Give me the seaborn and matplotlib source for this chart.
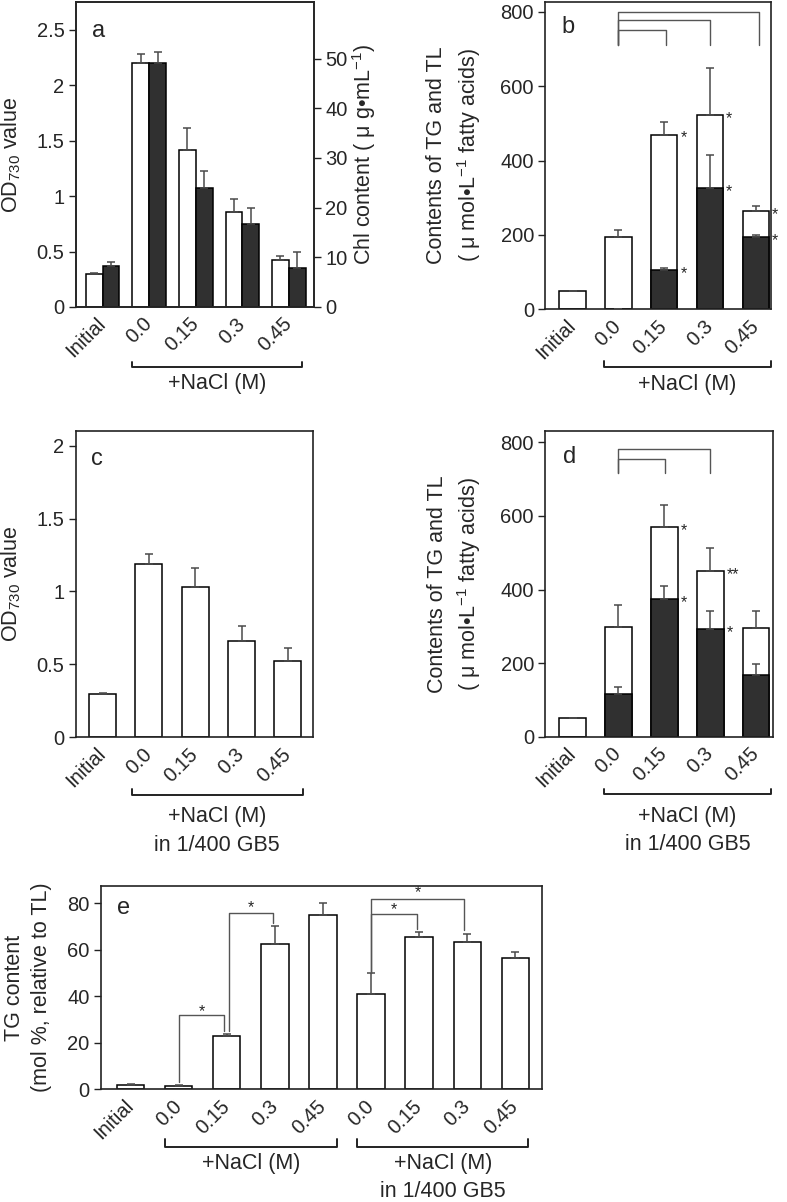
import matplotlib
matplotlib.use("Agg")
import matplotlib.pyplot as plt
from matplotlib.ticker import FuncFormatter
import seaborn as sns
import pandas as pd
import numpy as np

sns.set_theme(style="ticks")
plt.rcParams['font.family'] = ['Liberation Sans', 'DejaVu Sans']
plt.rcParams['mathtext.fontset'] = 'custom'
plt.rcParams['mathtext.rm'] = 'Liberation Sans'
plt.rcParams['mathtext.it'] = 'Liberation Sans:italic'
plt.rcParams['mathtext.default'] = 'regular'

# ---- data ----
conditions = ["Initial", "0.0", "0.15", "0.3", "0.45"]

# panel a: OD730 (white, left axis) and Chl content (dark, right axis)
od_a = [0.30, 2.20, 1.42, 0.86, 0.42]
od_a_err = [0.005, 0.08, 0.19, 0.11, 0.04]
chl_a = [8.2, 49.2, 24.0, 16.7, 7.9]
chl_a_err = [0.9, 2.2, 3.4, 3.3, 3.1]

# panel b: total lipids (white) and TG (dark)
tl_b = [48, 195, 470, 523, 265]
tl_b_err = [1, 18, 35, 127, 12]
tg_b = [0, 2, 105, 327, 195]
tg_b_err = [0, 0, 6, 88, 5]

# panel c: OD730 in 1/400 GB5
od_c = [0.30, 1.19, 1.03, 0.66, 0.525]
od_c_err = [0.003, 0.065, 0.13, 0.10, 0.085]

# panel d: total lipids (white) and TG (dark) in 1/400 GB5
tl_d = [50, 298, 570, 451, 296]
tl_d_err = [2, 60, 59, 61, 45]
tg_d = [0, 117, 373, 292, 168]
tg_d_err = [0, 19, 37, 51, 30]

# panel e: TG content relative to TL
e_keys = ["Initial", "0.0", "0.15", "0.3", "0.45",
          "GB 0.0", "GB 0.15", "GB 0.3", "GB 0.45"]
e_labels = ["Initial", "0.0", "0.15", "0.3", "0.45", "0.0", "0.15", "0.3", "0.45"]
tg_pct = [1.9, 1.4, 22.9, 62.4, 75.0, 41.1, 65.4, 63.5, 56.3]
tg_pct_err = [0.5, 0.3, 0.7, 8.0, 5.0, 8.8, 2.1, 3.4, 2.9]

DARK = "#303030"
ERRC = "#4a4a4a"
LINEC = "#555555"
TICK_FS = 14.5
LAB_FS = 15.5

fig = plt.figure(figsize=(7.87, 12.02), dpi=100)
W, H = 787, 1202


def make_axes(l, r, t, b):
    return fig.add_axes([l / W, 1 - b / H, (r - l) / W, (b - t) / H])


def fmt_g(v, p):
    return f"{v:g}"


def style(ax, ylim, yticks, xlim, labels):
    ax.set_ylim(*ylim)
    ax.set_yticks(yticks)
    ax.yaxis.set_major_formatter(FuncFormatter(fmt_g))
    ax.set_xlim(*xlim)
    ax.set_xticks(range(len(labels)))
    ax.set_xticklabels(labels, rotation=45, ha="right", va="center",
                       rotation_mode="anchor")
    ax.tick_params(axis="y", direction="out", length=5, width=1.0,
                   labelsize=TICK_FS, pad=3, color="#222")
    ax.tick_params(axis="x", length=0, labelsize=TICK_FS, pad=10)
    for s in ax.spines.values():
        s.set_visible(True)
        s.set_linewidth(1.2)
        s.set_color("#222")
    ax.set_xlabel("")


def errbars(ax, patches, errs):
    xs = [p.get_x() + p.get_width() / 2 for p in patches]
    ys = [p.get_height() for p in patches]
    ax.errorbar(xs, ys, yerr=[np.zeros(len(errs)), errs], fmt="none",
                ecolor=ERRC, elinewidth=1.1, capsize=2.8, capthick=1.1, zorder=3)


def group_bracket(ax, x0, x1, y, tick, lines):
    tr = ax.get_xaxis_transform()
    ax.plot([x0, x0, x1, x1], [y + tick, y, y, y + tick], transform=tr,
            clip_on=False, color="#222", lw=1.4)
    for txt, ty in lines:
        ax.text((x0 + x1) / 2, ty, txt, transform=tr, ha="center", va="center",
                fontsize=LAB_FS)


def star(ax, x, y, s="*", dy=-2.5):
    ax.annotate(s, xy=(x, y), xytext=(0, dy), textcoords="offset points",
                ha="center", va="center", fontsize=11.5, annotation_clip=False)


def sig(ax, x0, x1, y, y0, y1, label=None, ly=None):
    ax.plot([x0, x0, x1, x1], [y0, y, y, y1], color=LINEC, lw=1.0, zorder=4)
    if label:
        star(ax, (x0 + x1) / 2, ly, label, dy=0)


def stacked(ax, tl, tl_err, tg, tg_err, width):
    df_tl = pd.DataFrame({"cond": conditions, "value": tl})
    df_tg = pd.DataFrame({"cond": conditions, "value": tg})
    sns.barplot(data=df_tl, x="cond", y="value", color="white", saturation=1,
                width=width, edgecolor="black", linewidth=1.1, errorbar=None, ax=ax)
    p_tl = list(ax.patches)
    sns.barplot(data=df_tg, x="cond", y="value", color=DARK, saturation=1,
                width=width, edgecolor="black", linewidth=1.1, errorbar=None, ax=ax)
    p_tg = list(ax.patches)[len(p_tl):]
    errbars(ax, p_tl, tl_err)
    errbars(ax, p_tg[1:], tg_err[1:])


# ---------------- panel a ----------------
ax_a = make_axes(75.7, 314, 2, 307)
ax_a2 = ax_a.twinx()
df_a = pd.DataFrame({
    "cond": conditions * 2,
    "series": ["OD"] * 5 + ["Chl"] * 5,
    "value": od_a + chl_a,
})
pal = {"OD": "white", "Chl": DARK}
sns.barplot(data=df_a[df_a.series == "OD"], x="cond", y="value", hue="series",
            hue_order=["OD", "Chl"], palette=pal, saturation=1, width=0.72,
            dodge=True, edgecolor="black", linewidth=1.1, errorbar=None,
            legend=False, ax=ax_a)
errbars(ax_a, list(ax_a.patches), od_a_err)
sns.barplot(data=df_a[df_a.series == "Chl"], x="cond", y="value", hue="series",
            hue_order=["OD", "Chl"], palette=pal, saturation=1, width=0.72,
            dodge=True, edgecolor="black", linewidth=1.1, errorbar=None,
            legend=False, ax=ax_a2)
errbars(ax_a2, list(ax_a2.patches), chl_a_err)
style(ax_a, (0, 2.75), np.arange(0, 2.51, 0.5), (-0.58, 4.54), conditions)
ax_a2.set_ylim(0, 61.4)
ax_a2.set_yticks(range(0, 51, 10))
ax_a2.tick_params(axis="y", direction="out", length=5, width=1.0,
                  labelsize=TICK_FS, pad=3, color="#222")
ax_a2.set_xlabel("")
ax_a.set_ylabel(r"OD$_{730}$ value", fontsize=LAB_FS, va="center")
ax_a.yaxis.set_label_coords(-0.27, 0.5)
ax_a2.set_ylabel("Chl content ( μ g•mL$^{-1}$)", fontsize=LAB_FS, va="center")
ax_a2.yaxis.set_label_coords(1.21, 0.5)
ax_a.text(0.095, 0.905, "a", transform=ax_a.transAxes, fontsize=17,
          ha="center", va="center")
group_bracket(ax_a, 0.62, 4.29, -0.197, 0.018, [("+NaCl (M)", -0.252)])

# ---------------- panel b ----------------
ax_b = make_axes(545, 771, 1.5, 309.3)
stacked(ax_b, tl_b, tl_b_err, tg_b, tg_b_err, 0.58)
style(ax_b, (0, 828), range(0, 801, 200), (-0.6, 4.33), conditions)
ax_b.set_ylabel("Contents of TG and TL\n( μ mol•L$^{-1}$ fatty acids)",
                fontsize=LAB_FS, va="center", linespacing=1.35)
ax_b.yaxis.set_label_coords(-0.40, 0.5)
ax_b.text(0.102, 0.918, "b", transform=ax_b.transAxes, fontsize=17,
          ha="center", va="center")
sig(ax_b, 1, 4.07, 800, 711, 711)
sig(ax_b, 1, 3.0, 777, 711, 711)
sig(ax_b, 1, 2.04, 751, 711, 711)
for i, y in [(2, tl_b[2]), (2, tg_b[2]), (3, tl_b[3]), (3, tg_b[3]),
             (4, tl_b[4]), (4, tg_b[4])]:
    star(ax_b, i + 0.42, y)
group_bracket(ax_b, 0.68, 4.33, -0.186, 0.018, [("+NaCl (M)", -0.243)])

# ---------------- panel c ----------------
ax_c = make_axes(75.7, 313.3, 431, 737.3)
sns.barplot(x=conditions, y=od_c, color="white", saturation=1, width=0.58,
            edgecolor="black", linewidth=1.1, errorbar=None, ax=ax_c)
errbars(ax_c, list(ax_c.patches), od_c_err)
style(ax_c, (0, 2.10), np.arange(0, 2.01, 0.5), (-0.58, 4.55), conditions)
ax_c.set_ylabel(r"OD$_{730}$ value", fontsize=LAB_FS, va="center")
ax_c.yaxis.set_label_coords(-0.27, 0.5)
ax_c.text(0.088, 0.908, "c", transform=ax_c.transAxes, fontsize=17,
          ha="center", va="center")
group_bracket(ax_c, 0.63, 4.32, -0.188, 0.018,
              [("+NaCl (M)", -0.26), ("in 1/400 GB5", -0.352)])

# ---------------- panel d ----------------
ax_d = make_axes(545, 772.7, 431, 736.7)
stacked(ax_d, tl_d, tl_d_err, tg_d, tg_d_err, 0.58)
style(ax_d, (0, 831), range(0, 801, 200), (-0.6, 4.36), conditions)
ax_d.set_ylabel("Contents of TG and TL\n( μ mol•L$^{-1}$ fatty acids)",
                fontsize=LAB_FS, va="center", linespacing=1.35)
ax_d.yaxis.set_label_coords(-0.395, 0.5)
ax_d.text(0.11, 0.916, "d", transform=ax_d.transAxes, fontsize=17,
          ha="center", va="center")
sig(ax_d, 1, 3.0, 782, 716, 716)
sig(ax_d, 1, 2.02, 756, 716, 716)
star(ax_d, 2.42, tl_d[2])
star(ax_d, 2.42, tg_d[2])
star(ax_d, 3.5, tl_d[3], "**")
star(ax_d, 3.42, tg_d[3])
group_bracket(ax_d, 0.68, 4.33, -0.188, 0.018,
              [("+NaCl (M)", -0.26), ("in 1/400 GB5", -0.352)])

# ---------------- panel e ----------------
ax_e = make_axes(100.7, 542.3, 885.7, 1089.3)
sns.barplot(x=e_keys, y=tg_pct, color="white", saturation=1, width=0.57,
            edgecolor="black", linewidth=1.1, errorbar=None, ax=ax_e)
errbars(ax_e, list(ax_e.patches), tg_pct_err)
style(ax_e, (0, 87.6), range(0, 81, 20), (-0.62, 8.56), e_labels)
ax_e.set_ylabel("TG content\n(mol %, relative to TL)", fontsize=LAB_FS,
                va="center", linespacing=1.35)
ax_e.yaxis.set_label_coords(-0.165, 0.5)
ax_e.text(0.051, 0.889, "e", transform=ax_e.transAxes, fontsize=17,
          ha="center", va="center")
sig(ax_e, 1, 1.95, 32, 3.3, 25.2, "*", 33.5)
sig(ax_e, 2.04, 2.96, 76, 25.2, 71.7, "*", 78)
sig(ax_e, 5, 5.95, 75.3, 50, 69, "*", 77.5)
sig(ax_e, 5, 6.93, 82, 50, 68.5, "*", 84.5)
group_bracket(ax_e, 0.71, 4.3, -0.282, 0.04, [("+NaCl (M)", -0.362)])
group_bracket(ax_e, 4.71, 8.27, -0.282, 0.04,
              [("+NaCl (M)", -0.362), ("in 1/400 GB5", -0.503)])

fig.savefig("out.png", dpi=100)
